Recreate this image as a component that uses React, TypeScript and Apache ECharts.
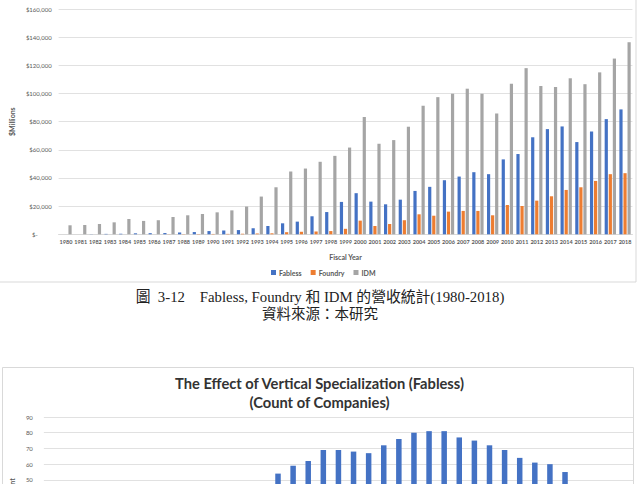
import React, { useEffect, useRef } from "react";
import * as echarts from "echarts";

const years = [
  "1980", "1981", "1982", "1983", "1984", "1985", "1986", "1987", "1988", "1989",
  "1990", "1991", "1992", "1993", "1994", "1995", "1996", "1997", "1998", "1999",
  "2000", "2001", "2002", "2003", "2004", "2005", "2006", "2007", "2008", "2009",
  "2010", "2011", "2012", "2013", "2014", "2015", "2016", "2017", "2018",
];

const fabless = [
  0, 0, 100, 300, 400, 700, 800, 900, 1300, 1600,
  2300, 2700, 3000, 4300, 5900, 7800, 9000, 12800, 15800, 23000,
  29200, 23200, 21300, 24600, 30800, 33700, 38400, 41000, 44100, 42700,
  53200, 57000, 68900, 74700, 76600, 65500, 73000, 81800, 88700,
];

const foundry = [
  0, 0, 0, 0, 0, 0, 0, 100, 150, 200,
  250, 300, 400, 500, 700, 1500, 1800, 2000, 2300, 3900,
  9700, 5900, 7300, 10000, 14200, 13200, 16100, 16600, 16600, 13500,
  20800, 20100, 23900, 27000, 31500, 33400, 37900, 42700, 43400,
];

const idm = [
  6400, 6600, 7300, 8500, 10900, 9500, 10000, 12300, 13500, 14400,
  15600, 17000, 19700, 26800, 33400, 44600, 46700, 51500, 55700, 61600,
  83300, 64300, 66900, 76400, 91300, 97400, 99800, 103400, 99800, 85800,
  106900, 118000, 105300, 104600, 110800, 106600, 115000, 124800, 136400,
];

const companyCount = [
  10, 12, 14, 16, 18, 20, 22, 25, 28, 30,
  33, 36, 40, 43, 45, 54, 59, 62, 69, 69,
  68, 67, 72, 76, 80, 81, 81, 77, 75, 72,
  69, 64, 61, 60, 55, 46, 44, 42, 40,
];

const seriesNames = ["Fabless", "Foundry", "IDM"];
const colors = ["#4472C4", "#ED7D31", "#A5A5A5"];

const captionLine1 = "圖  3-12    Fabless, Foundry 和 IDM 的營收統計(1980-2018)";
const captionLine2 = "資料來源：本研究";
const bottomTitle = "The Effect of Vertical Specialization (Fabless)\n(Count of Companies)";

const labelFont = "Lato, 'Open Sans', sans-serif";
const gridColor = "#d9d9d9";
const textColor = "#595959";

export default function App() {
  const ref = useRef<HTMLDivElement>(null);

  useEffect(() => {
    const chart = echarts.init(ref.current!, null, { renderer: "svg" });
    const fmtMoney = (v: number) =>
      v === 0 ? "$-         " : "$" + v.toLocaleString("en-US");

    chart.setOption({
      animation: false,
      backgroundColor: "#ffffff",
      textStyle: { fontFamily: labelFont },
      title: [
        {
          text: bottomTitle,
          left: "center",
          top: 368,
          textStyle: {
            fontFamily: labelFont,
            fontSize: 14.7,
            fontWeight: "bold",
            color: "#333333",
            lineHeight: 19,
          },
        },
      ],
      legend: {
        data: seriesNames,
        left: 266,
        top: 264,
        itemWidth: 5,
        itemHeight: 5,
        itemGap: 9,
        icon: "rect",
        textStyle: {
          fontFamily: labelFont,
          fontSize: 7,
          fontWeight: "bold",
          color: textColor,
          padding: [0, 0, 0, -2],
        },
      },
      grid: [
        { left: 52.6, width: 579.8, top: 9, height: 225.3 },
        { left: 34, width: 599, top: 417, height: 141.5 },
      ],
      xAxis: [
        {
          type: "category",
          gridIndex: 0,
          data: years,
          name: "Fiscal Year",
          nameLocation: "middle",
          nameGap: 19,
          nameTextStyle: {
            fontSize: 7,
            fontWeight: "bold",
            color: textColor,
            fontFamily: labelFont,
          },
          axisLine: { lineStyle: { color: gridColor } },
          axisTick: { show: false },
          axisLabel: {
            interval: 0,
            fontSize: 5.5,
            fontWeight: "bold",
            color: textColor,
            margin: 5,
          },
        },
        {
          type: "category",
          gridIndex: 1,
          data: years,
          axisLine: { lineStyle: { color: gridColor } },
          axisTick: { show: false },
          axisLabel: { show: false },
        },
      ],
      yAxis: [
        {
          type: "value",
          gridIndex: 0,
          min: 0,
          max: 160000,
          interval: 20000,
          name: "$Millions",
          nameLocation: "middle",
          nameGap: 39,
          nameTextStyle: {
            fontSize: 7,
            fontWeight: "bold",
            color: textColor,
            fontFamily: labelFont,
          },
          axisLine: { show: false },
          axisTick: { show: false },
          splitLine: { lineStyle: { color: gridColor, width: 0.8 } },
          axisLabel: {
            fontSize: 6,
            color: textColor,
            margin: 7,
            formatter: fmtMoney,
          },
        },
        {
          type: "value",
          gridIndex: 1,
          min: 0,
          max: 90,
          interval: 10,
          name: "Count",
          nameLocation: "middle",
          nameGap: 23,
          nameTextStyle: {
            fontSize: 7,
            fontWeight: "bold",
            color: textColor,
            fontFamily: labelFont,
          },
          axisLine: { show: false },
          axisTick: { show: false },
          splitLine: { lineStyle: { color: gridColor, width: 0.8 } },
          axisLabel: { fontSize: 6, color: textColor, margin: 11 },
        },
      ],
      series: [
        {
          name: seriesNames[0],
          type: "bar",
          xAxisIndex: 0,
          yAxisIndex: 0,
          data: fabless,
          barWidth: 3.2,
          barGap: "27%",
          itemStyle: { color: colors[0] },
        },
        {
          name: seriesNames[1],
          type: "bar",
          xAxisIndex: 0,
          yAxisIndex: 0,
          data: foundry,
          barWidth: 3.2,
          barGap: "27%",
          itemStyle: { color: colors[1] },
        },
        {
          name: seriesNames[2],
          type: "bar",
          xAxisIndex: 0,
          yAxisIndex: 0,
          data: idm,
          barWidth: 3.2,
          barGap: "27%",
          itemStyle: { color: colors[2] },
        },
        {
          name: "Count",
          type: "bar",
          xAxisIndex: 1,
          yAxisIndex: 1,
          data: companyCount,
          barWidth: 5.5,
          itemStyle: { color: colors[0] },
        },
      ],
      graphic: [
        {
          type: "rect",
          shape: { x: -1, y: -1, width: 637, height: 283 },
          style: { fill: "none", stroke: "#d9d9d9", lineWidth: 1 },
          silent: true,
        },
        {
          type: "rect",
          shape: { x: 2.5, y: 367.5, width: 631, height: 230 },
          style: { fill: "none", stroke: "#d9d9d9", lineWidth: 1 },
          silent: true,
        },
        {
          type: "text",
          x: 320,
          y: 297,
          style: {
            text: captionLine1,
            textAlign: "center",
            textVerticalAlign: "middle",
            fontFamily: "'Liberation Serif', 'Noto Sans CJK TC', serif",
            fontSize: 14.8,
            fill: "#222222",
          },
        },
        {
          type: "text",
          x: 320,
          y: 314,
          style: {
            text: captionLine2,
            textAlign: "center",
            textVerticalAlign: "middle",
            fontFamily: "'Liberation Serif', 'Noto Sans CJK TC', serif",
            fontSize: 14.5,
            fill: "#222222",
          },
        },
      ],
    });
    return () => chart.dispose();
  }, []);

  return (
    <div
      style={{
        position: "absolute",
        left: 0,
        top: 0,
        width: 639,
        height: 484,
        overflow: "hidden",
        background: "#ffffff",
      }}
    >
      <div ref={ref} style={{ width: 639, height: 620 }} />
    </div>
  );
}
